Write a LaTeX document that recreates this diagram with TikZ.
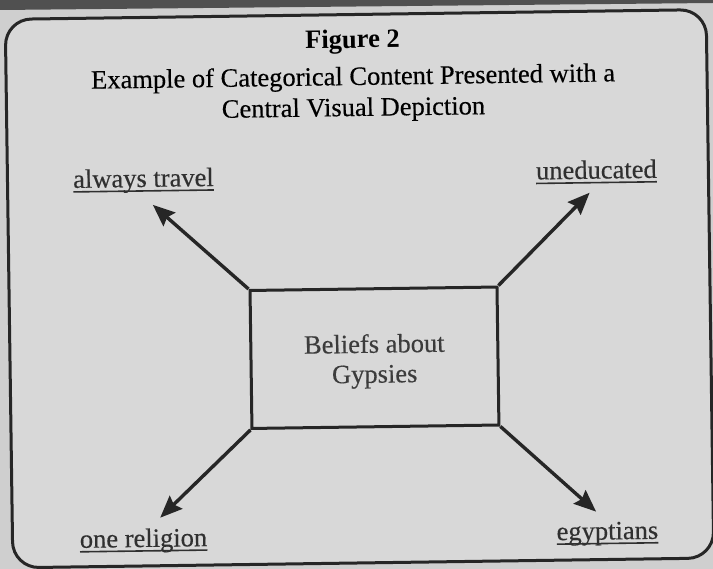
\documentclass[tikz,border=0pt]{standalone}
\usepackage{fontspec}
\setmainfont{Liberation Serif}
\newfontfamily\scanfont[FakeBold=0.35]{Liberation Serif}
\usetikzlibrary{arrows.meta}
\definecolor{bgout}{HTML}{CFCFCF}
\definecolor{bgin}{HTML}{D8D8D8}
\definecolor{band}{HTML}{505050}
\definecolor{ink}{HTML}{262626}
\definecolor{labelink}{HTML}{303030}
\definecolor{boxink}{HTML}{3C3C3C}
\begin{document}
\begin{tikzpicture}[x=1pt,y=-1pt,
  txt/.style={font=\scanfont\fontsize{26.5}{30}\selectfont, text=labelink, inner sep=0pt, outer sep=0pt, transform shape},
  lbl/.style={txt, anchor=base},
  title/.style={lbl, text=black},
  arr/.style={draw=ink, line width=3.4pt, -{Stealth[length=22pt,width=18pt,inset=3pt]}},
  ul/.style={draw=labelink, line width=1.6pt},
  frame/.style={draw=ink, line width=3pt, fill=bgin, rounded corners=26pt},
  centerbox/.style={draw=ink, line width=3pt, minimum width=247pt, minimum height=138pt, inner sep=0pt, transform shape},
]
\fill[bgout] (0,0) rectangle (713,569);
\fill[band] (0,0) -- (713,0) -- (713,3) -- (0,10) -- cycle;
\useasboundingbox (0,0) rectangle (713,569);
\begin{scope}[rotate around={0.8:(356,288)}]
  \draw[frame] (9,14.5) rectangle (710,563);
  % title
  \node[title, font=\fontsize{26.5}{30}\selectfont\bfseries] (fig) at (356,48) {Figure 2};
  \node[title] (t1) at (356,85) {Example of Categorical Content Presented with a};
  \node[title] (t2) at (356,116) {Central Visual Depiction};
  % central box
  \node[centerbox] (box) at (373.5,358) {};
  \node[lbl, text=boxink] (b1) at (373.5,353) {Beliefs about};
  \node[lbl, text=boxink] (b2) at (373.5,383) {Gypsies};
  % labels
  \node[lbl] (l1) at (145,184) {always travel};
  \node[lbl] (l2) at (598,182) {uneducated};
  \node[lbl] (l3) at (140,544) {one religion};
  \node[lbl] (l4) at (604,543) {egyptians};
  \foreach \n in {l1,l2,l3,l4}
    \draw[ul] ([yshift=-4pt]\n.base west) -- ([yshift=-4pt]\n.base east);
  % arrow tips
  \coordinate (tl) at (154,202);
  \coordinate (tr) at (591,196);
  \coordinate (bl) at (157,515);
  \coordinate (br) at (593,515);
  \draw[arr] (box.north west) -- (tl);
  \draw[arr] (box.north east) -- (tr);
  \draw[arr] (box.south west) -- (bl);
  \draw[arr] (box.south east) -- (br);
\end{scope}
\end{tikzpicture}
\end{document}
